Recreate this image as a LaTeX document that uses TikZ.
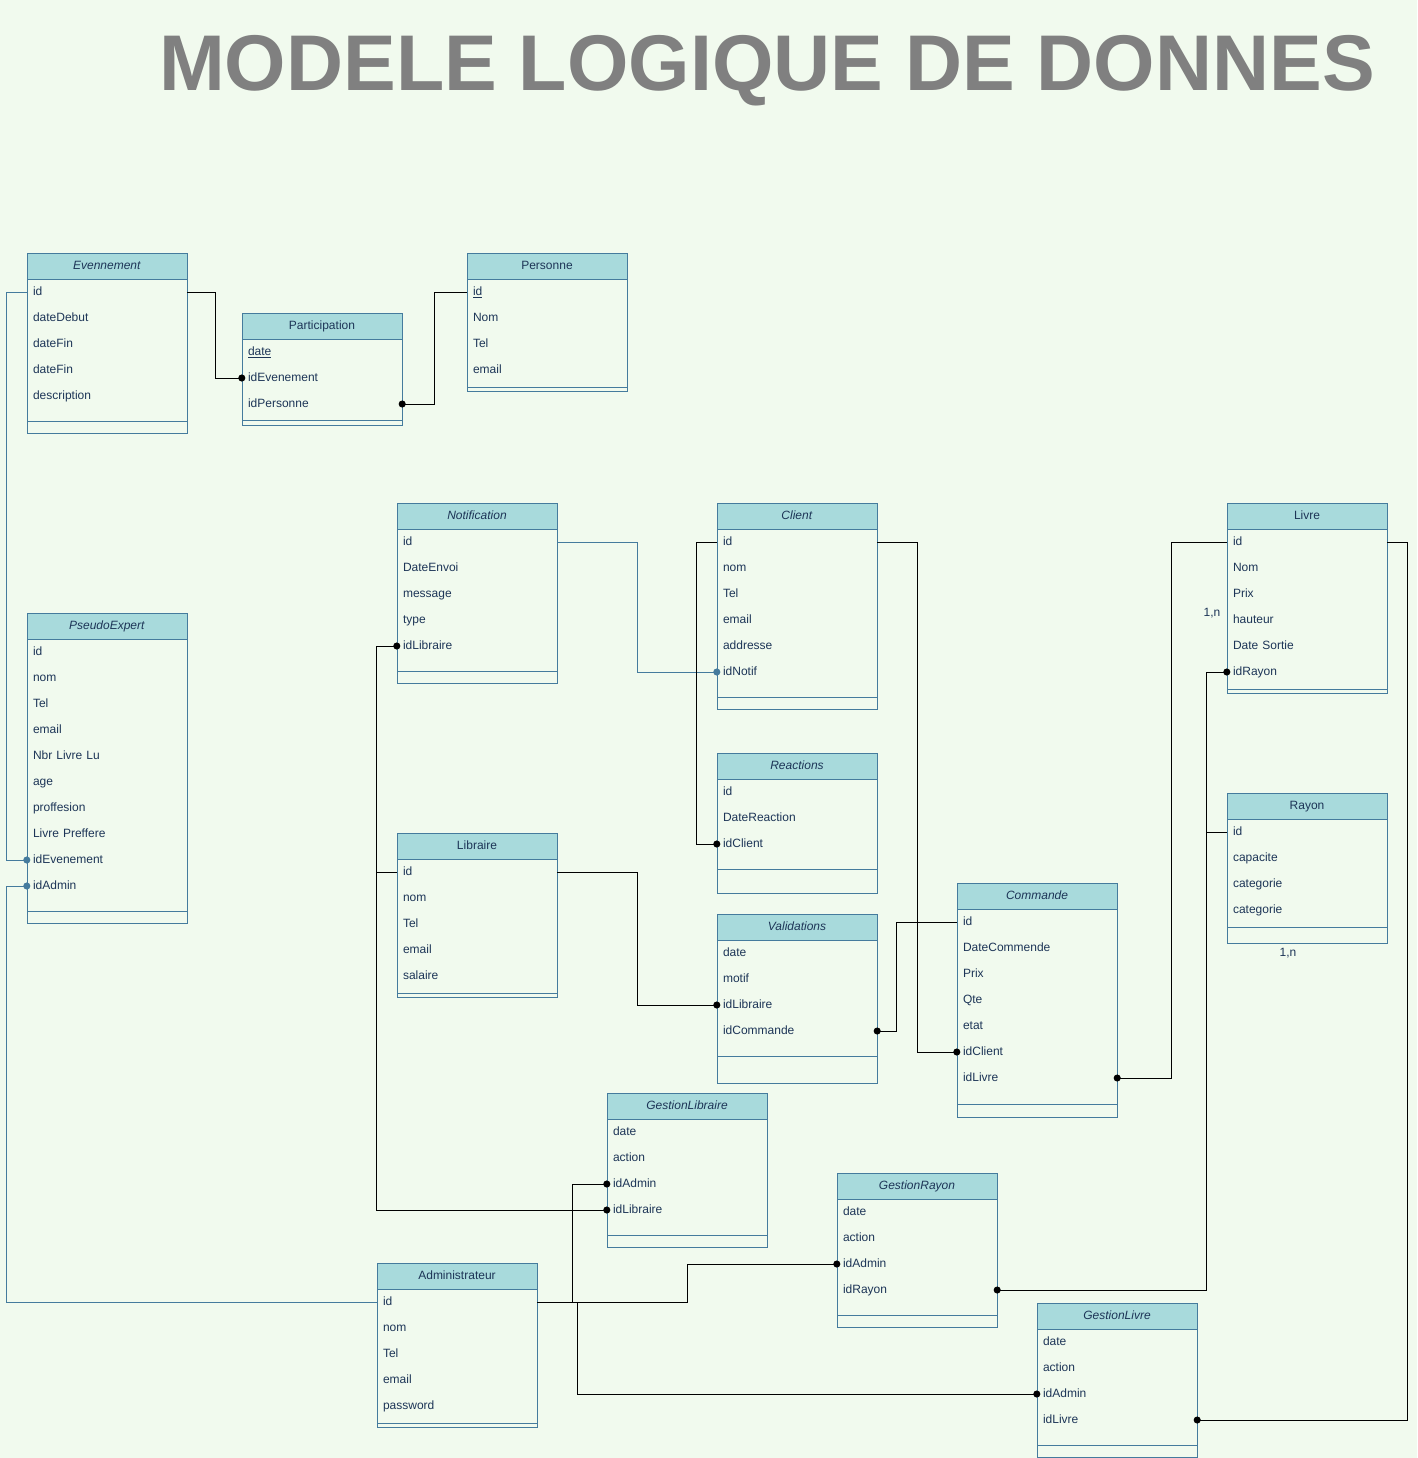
\documentclass[tikz,border=0pt]{standalone}
\usepackage{fontspec}
\setmainfont{Liberation Sans}
\usetikzlibrary{arrows.meta}
\definecolor{paper}{HTML}{F1FAEE}
\definecolor{headfill}{HTML}{A8DADC}
\definecolor{boxline}{HTML}{457B9D}
\definecolor{ink}{HTML}{1D3557}
\tikzstyle{head} = [rectangle, draw=boxline, fill=headfill, line width=1pt, minimum width=160pt, minimum height=26pt, inner sep=0, text height=9.6pt, text depth=2.4pt, text=ink, font=\fontsize{12}{14}\selectfont]
\tikzstyle{row} = [rectangle, minimum width=160pt, minimum height=26pt, text width=148pt, inner xsep=6pt, inner ysep=0, text height=9.6pt, text depth=2.4pt, align=left, text=ink, font=\fontsize{12}{14}\selectfont]
\tikzstyle{box} = [draw=boxline, line width=1pt]
\tikzstyle{fk} = [line width=1pt, -{Circle[length=7pt]}, shorten >=-3.5pt]
\tikzstyle{fkblue} = [fk, draw=boxline]
\tikzstyle{card} = [text=ink, font=\fontsize{12}{14}\selectfont]
\tikzstyle{title} = [text=black!50, font=\fontsize{79}{90}\selectfont\bfseries]
% #1 name, #2 left x, #3 top y, #4 header, #5 fields, #6 separator y, #7 bottom y
\newcommand{\entity}[7]{%
  \node[head] (#1) at (#2+80,#3+13) {#4};
  \draw[box] (#2,#3+26) rectangle (#2+160,#7);
  \draw[box] (#2,#6) -- (#2+160,#6);
  \foreach \fld [count=\i] in {#5}
    \node[row] (#1-\i) at (#2+80,#3+13+26*\i) {\fld};
}

\begin{document}
\begin{tikzpicture}[x=1pt,y=-1pt]
\fill[paper] (0,0) rectangle (1417,1458);
\useasboundingbox (0,0) rectangle (1417,1458);

\node[title, anchor=base] (heading) at (767,91) {MODELE LOGIQUE DE DONNES};

% tables
\entity{Evennement}{27}{253}{\textit{Evennement}}{id, dateDebut, dateFin, dateFin, description}{421}{433}
\entity{Participation}{242}{313}{Participation}{\underline{date}, idEvenement, idPersonne}{420}{425}
\entity{Personne}{467}{253}{Personne}{\underline{id}, Nom, Tel, email}{387}{391}
\entity{Notification}{397}{503}{\textit{Notification}}{id, DateEnvoi, message, type, idLibraire}{671}{683}
\entity{Client}{717}{503}{\textit{Client}}{id, nom, Tel, email, addresse, idNotif}{697}{709}
\entity{Livre}{1227}{503}{Livre}{id, Nom, Prix, hauteur, Date Sortie, idRayon}{689}{693}
\entity{PseudoExpert}{27}{613}{\textit{PseudoExpert}}{id, nom, Tel, email, Nbr Livre Lu, age, proffesion, Livre Preffere, idEvenement, idAdmin}{911}{923}
\entity{Reactions}{717}{753}{\textit{Reactions}}{id, DateReaction, idClient}{869}{893}
\entity{Rayon}{1227}{793}{Rayon}{id, capacite, categorie, categorie}{927}{943}
\entity{Libraire}{397}{833}{Libraire}{id, nom, Tel, email, salaire}{993}{997}
\entity{Validations}{717}{914}{\textit{Validations}}{date, motif, idLibraire, idCommande}{1056}{1083}
\entity{Commande}{957}{883}{\textit{Commande}}{id, DateCommende, Prix, Qte, etat, idClient, idLivre}{1104}{1117}
\entity{GestionLibraire}{607}{1093}{\textit{GestionLibraire}}{date, action, idAdmin, idLibraire}{1235}{1247}
\entity{GestionRayon}{837}{1173}{\textit{GestionRayon}}{date, action, idAdmin, idRayon}{1315}{1327}
\entity{Administrateur}{377}{1263}{Administrateur}{id, nom, Tel, email, password}{1423}{1427}
\entity{GestionLivre}{1037}{1303}{\textit{GestionLivre}}{date, action, idAdmin, idLivre}{1445}{1457}

\node[card] (cardLivre) at (1212,613) {1,n};
\node[card] (cardRayon) at (1288,953) {1,n};

% links
\draw[fk] (Evennement-1.east) -- ++(28,0) |- (Participation-2.west);
\draw[fk] (Personne-1.west) -- ++(-32,0) |- (Participation-3.east);
\draw[fkblue] (Evennement-1.west) -- ++(-20,0) |- (PseudoExpert-9.west);
\draw[fkblue] (Administrateur-1.west) -- ++(-370,0) |- (PseudoExpert-10.west);
\draw[fkblue] (Notification-1.east) -- ++(80,0) |- (Client-6.west);
\draw[fk] (Client-1.west) -- ++(-20,0) |- (Reactions-3.west);
\draw[fk] (Client-1.east) -- ++(40,0) |- (Commande-6.west);
\draw[fk] (Libraire-1.west) -- ++(-20,0) |- (Notification-5.west);
\draw[fk] (Libraire-1.west) -- ++(-20,0) |- (GestionLibraire-4.west);
\draw[fk] (Libraire-1.east) -- ++(80,0) |- (Validations-3.west);
\draw[fk] (Commande-1.west) -- ++(-60,0) |- (Validations-4.east);
\draw[fk] (Livre-1.west) -- ++(-55,0) |- (Commande-7.east);
\draw[fk] (Rayon-1.west) -- ++(-20,0) |- (Livre-6.west);
\draw[fk] (Rayon-1.west) -- ++(-20,0) |- (GestionRayon-4.east);
\draw[fk] (Livre-1.east) -- ++(20,0) |- (GestionLivre-4.east);
\draw[fk] (Administrateur-1.east) -- ++(35,0) |- (GestionLibraire-3.west);
\draw[fk] (Administrateur-1.east) -- ++(150,0) |- (GestionRayon-3.west);
\draw[fk] (Administrateur-1.east) -- ++(40,0) |- (GestionLivre-3.west);
\end{tikzpicture}
\end{document}
